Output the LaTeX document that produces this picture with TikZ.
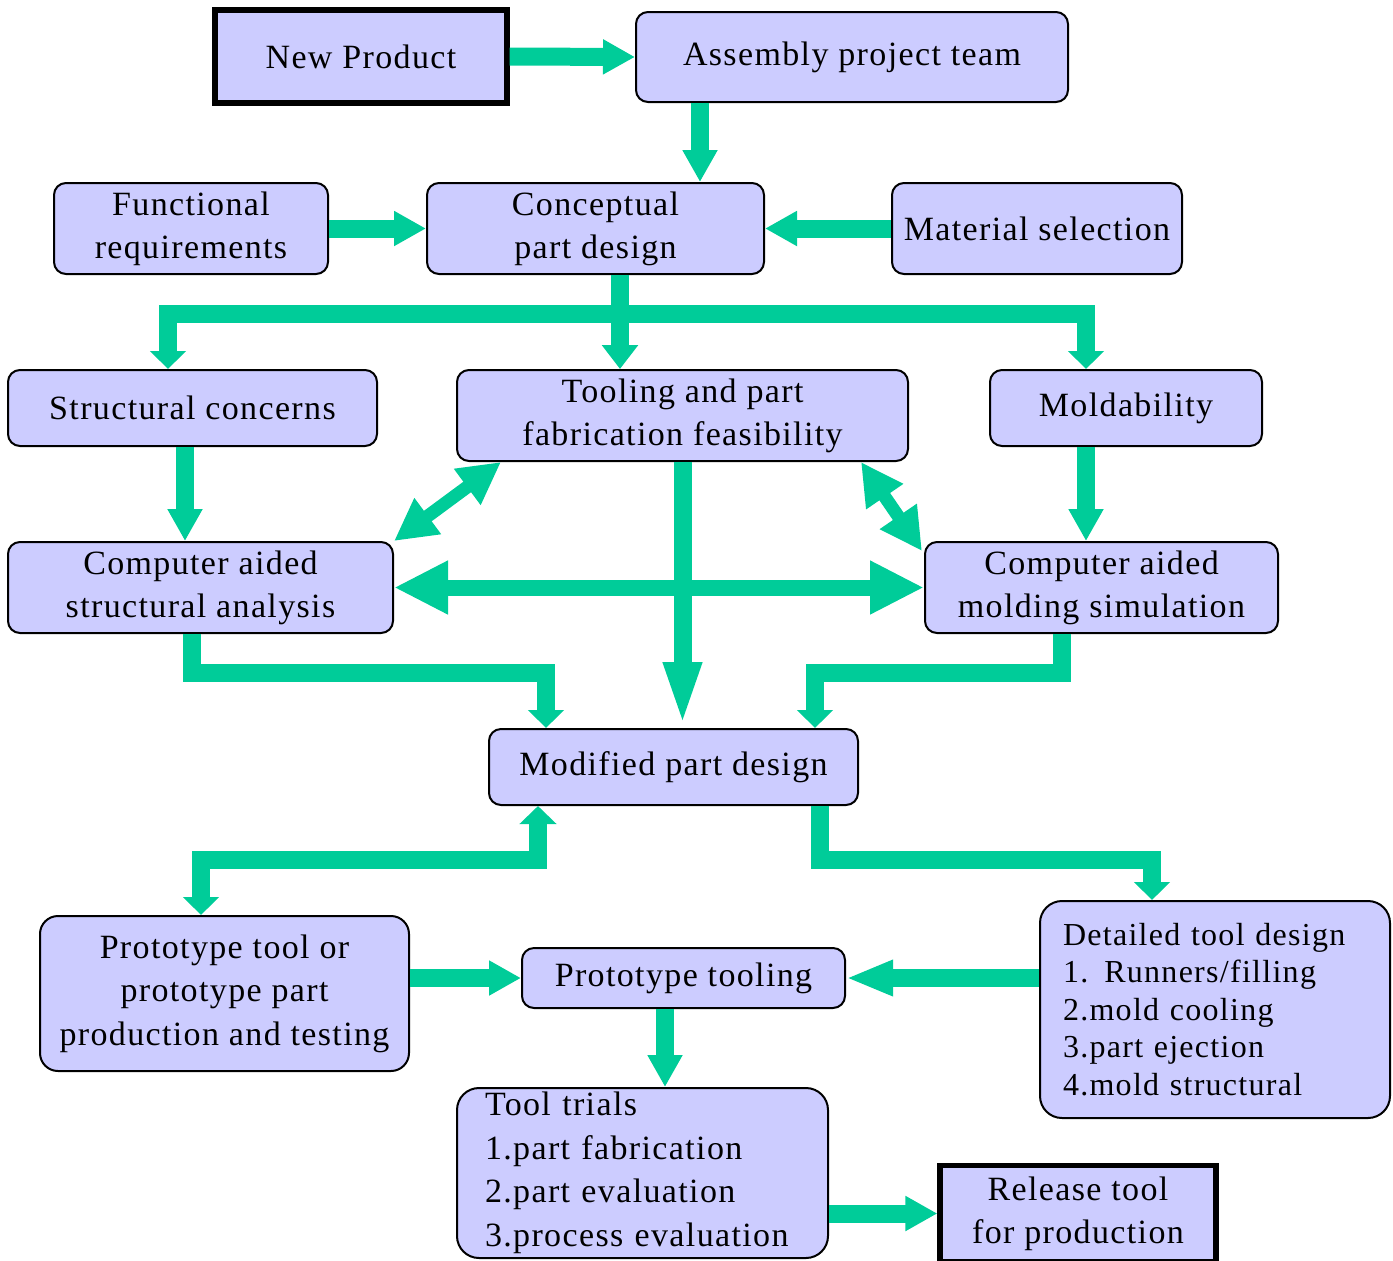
\documentclass[tikz,border=0pt]{standalone}
\usepackage{fontspec}
\setmainfont{Liberation Serif}[LetterSpace=4]
\usetikzlibrary{arrows.meta}
\definecolor{boxfill}{HTML}{CCCCFF}
\definecolor{garr}{HTML}{00CC99}
\begin{document}
\begin{tikzpicture}[x=0.5pt,y=-0.5pt,
  box/.style={draw=black, line width=1pt, fill=boxfill, rounded corners=6pt,
    inner sep=0pt, align=center, font=\fontsize{17}{21.5}\selectfont},
  thickbox/.style={box, rounded corners=0pt, line width=2.6pt},
  flow/.style={draw=garr, line width=9pt},
  tipA/.style={-{Triangle[width=16.5pt,length=16pt]}},
  tipB/.style={-{Triangle[width=17.5pt,length=9pt]}},
  tipC/.style={-{Triangle[width=17.5pt,length=12pt]}},
  tipBig/.style={{Triangle[width=25pt,length=27pt]}-{Triangle[width=25pt,length=27pt]}},
  tipDiag/.style={{Triangle[width=21pt,length=21pt]}-{Triangle[width=21pt,length=21pt]}},
  tipLong/.style={-{Triangle[width=17pt,length=33pt]}},
  tipDtd/.style={-{Triangle[width=16.5pt,length=23.5pt]}},
  tipBoth/.style={{Triangle[width=18pt,length=9pt]}-{Triangle[width=17.5pt,length=9pt]}}
]
\useasboundingbox (0,0) rectangle (1393,1260);

% boxes
\node[thickbox, minimum width=146pt, minimum height=46.5pt] (np) at (361,56.5) {New Product};
\node[box, minimum width=216pt, minimum height=45pt] (asm) at (852,57) {Assembly project team};
\node[box, minimum width=137pt, minimum height=45.5pt] (func) at (191,228.5) {Functional\\ requirements};
\node[box, minimum width=168.5pt, minimum height=45.5pt] (concept) at (595.5,228.5) {Conceptual\\ part design};
\node[box, minimum width=145pt, minimum height=45.5pt] (mat) at (1037,228.5) {Material selection};
\node[box, minimum width=184.5pt, minimum height=38pt] (struct) at (192.5,408) {Structural concerns};
\node[box, minimum width=225.5pt, minimum height=45.5pt] (tool) at (682.5,415.5) {Tooling and part\\ fabrication feasibility};
\node[box, minimum width=136pt, minimum height=38pt] (mold) at (1126,408) {Moldability};
\node[box, minimum width=192.5pt, minimum height=45.5pt] (cas) at (200.5,587.5) {Computer aided\\ structural analysis};
\node[box, minimum width=176.5pt, minimum height=45.5pt] (cam) at (1101.5,587.5) {Computer aided\\ molding simulation};
\node[box, minimum width=184.5pt, minimum height=38pt] (mod) at (673.5,767) {Modified part design};
\node[box, rounded corners=9pt, minimum width=184.5pt, minimum height=77.5pt,
  font=\fontsize{17}{21.75}\selectfont] (ptp) at (224.5,993.5) {Prototype tool or\\ prototype part\\ production and testing};
\node[box, minimum width=161.5pt, minimum height=30pt] (ptool) at (683.5,978) {Prototype tooling};
\node[box, rounded corners=11pt, minimum width=175pt, minimum height=108.5pt, align=left,
  text width=152pt, inner xsep=11.5pt, font=\fontsize{16}{18.75}\selectfont] (dtd) at (1215,1009.5)
  {Detailed tool design\\ 1. Runners/filling\\ 2.mold cooling\\ 3.part ejection\\ 4.mold structural};
\node[box, rounded corners=11pt, minimum width=185.5pt, minimum height=85pt, align=left,
  text width=157.5pt, inner xsep=14pt, font=\fontsize{17}{21.75}\selectfont] (tt) at (642.5,1173)
  {Tool trials\\ 1.part fabrication\\ 2.part evaluation\\ 3.process evaluation};
\node[thickbox, minimum width=138pt, minimum height=48pt] (rel) at (1078,1213.5) {Release tool\\ for production};

% connectors
\draw[flow, tipA] (np.east) -- (asm.west);
\draw[flow, tipA] (700,0 |- asm.south) -- (700,0 |- concept.north);
\draw[flow, tipA] (func.east) -- (concept.west);
\draw[flow, tipA] (mat.west) -- (concept.east);

\coordinate (br) at (620,314);
\draw[flow, -{Triangle[width=17.5pt,length=12pt]}] (620,0 |- concept.south) -- (620,0 |- tool.north);
\draw[flow, tipB] (br) -| (168,0 |- struct.north);
\draw[flow, tipB] (br) -| (1086,0 |- mold.north);

\draw[flow, tipA] (185,0 |- struct.south) -- (185,0 |- cas.north);
\draw[flow, tipA] (1086,0 |- mold.south) -- (1086,0 |- cam.north);

\draw[flow, line width=6.5pt, tipDiag] (501,0 |- tool.south) -- (cas.north east);
\draw[flow, line width=6.5pt, tipDiag] (861,0 |- tool.south) -- ([shift={(-2,10)}]cam.north west);
\draw[flow, line width=8pt, tipBig] (cas.east) -- (cam.west);

\draw[flow, tipLong] (682.5,0 |- tool.south) -- (682.5,0 |- mod.north);
\coordinate (lc) at (546,673);
\coordinate (rc) at (815,673);
\draw[flow, tipB] (192,0 |- cas.south) |- (lc) -- (546,0 |- mod.north);
\draw[flow, tipB] (1062,0 |- cam.south) |- (rc) -- (815,0 |- mod.north);

\coordinate (mc) at (538,860);
\draw[flow, tipBoth] (538,0 |- mod.south) -- (mc) -| (201,0 |- ptp.north);
\coordinate (dc) at (820,860);
\draw[flow, tipB] (820,0 |- mod.south) |- (dc) -| (1152,0 |- dtd.north);

\draw[flow, tipA] (ptp.east |- ptool.west) -- (ptool.west);
\draw[flow, tipDtd] (dtd.west |- ptool.east) -- (ptool.east);
\draw[flow, tipA] (665,0 |- ptool.south) -- (665,0 |- tt.north);
\draw[flow, tipA] (tt.east |- rel.west) -- (rel.west);
\end{tikzpicture}
\end{document}
